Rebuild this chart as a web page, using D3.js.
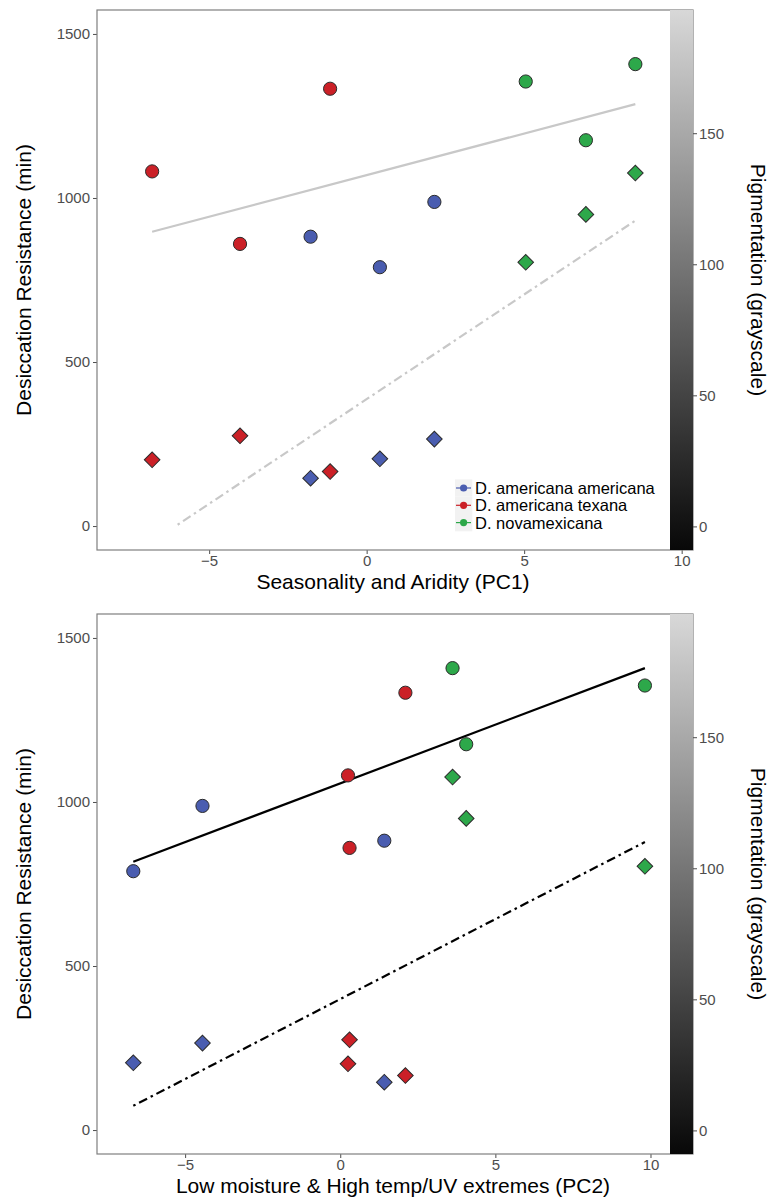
<!DOCTYPE html>
<html><head><meta charset="utf-8">
<script src="https://cdn.jsdelivr.net/npm/d3@7"></script>
<style>body{margin:0;background:#fff}svg{display:block;font-family:"Liberation Sans",Arial,sans-serif}</style>
</head><body><svg id="c" width="769" height="1197"></svg>
<script>
const species = ["D. americana americana", "D. americana texana", "D. novamexicana"];
const speciesColors = ["#4a5db0", "#cb2027", "#2da84a"];
const popSpecies = [0, 0, 0, 1, 1, 1, 2, 2, 2];
const pc1 = [-1.78, 0.42, 2.15, -6.81, -4.02, -1.16, 5.05, 8.53, 6.96];
const pc2 = [1.42, -6.67, -4.44, 0.25, 0.30, 2.10, 9.82, 3.62, 4.06];
const resistCircle = [882, 789, 988, 1081, 860, 1333, 1355, 1408, 1176];
const resistDiamond = [146, 205, 265, 202, 275, 166, 804, 1076, 950];
const fitPC1Solid = [[-6.81, 897], [8.53, 1286]];
const fitPC1DotDash = [[-6.0, 4], [8.53, 931]];
const fitPC2Solid = [[-6.67, 818], [9.82, 1408]];
const fitPC2DotDash = [[-6.67, 74], [9.82, 878]];
const xTicks = [-5, 0, 5, 10];
const yTicks = [0, 500, 1000, 1500];
const pigTicks = [0, 50, 100, 150];
const fitColorPC1 = "#c8c8c8";
const fitColorPC2 = "#000000";

const svg = d3.select("#c");
const defs = svg.append("defs");
const grad = defs.append("linearGradient").attr("id", "pig").attr("x1", 0).attr("y1", 1).attr("x2", 0).attr("y2", 0);
grad.append("stop").attr("offset", "0%").attr("stop-color", "#080808");
grad.append("stop").attr("offset", "100%").attr("stop-color", "#d8d8d8");

function panel(cfg) {
  const L = 97, R = 693, T = cfg.top, B = cfg.top + 540;
  const x = d3.scaleLinear().domain(cfg.xDomain).range([L, R]);
  const y = d3.scaleLinear().domain([-73, 1573]).range([B, T]);
  const cy = d3.scaleLinear().domain([-9, 197]).range([B, T]);
  const g = svg.append("g");
  const clipId = "clip" + cfg.top;
  defs.append("clipPath").attr("id", clipId).append("rect").attr("x", L).attr("y", T).attr("width", R - L).attr("height", B - T);

  // axes
  const xa = g.append("g").attr("transform", `translate(0,${B})`).call(d3.axisBottom(x).tickValues(xTicks).tickSize(4).tickPadding(1.5));
  const ya = g.append("g").attr("transform", `translate(${L},0)`).call(d3.axisLeft(y).tickValues(yTicks).tickSize(4).tickPadding(3).tickFormat(d3.format("d")));
  [xa, ya].forEach(a => {
    a.select(".domain").remove();
    a.selectAll("line").attr("stroke", "#4d4d4d");
    a.selectAll("text").attr("fill", "#4d4d4d").style("font-size", "15px").style("font-family", "Liberation Sans, Arial, sans-serif");
  });
  g.append("rect").attr("x", L).attr("y", T).attr("width", R - L).attr("height", B - T)
    .attr("fill", "none").attr("stroke", "#7f7f7f").attr("stroke-width", 1.2);

  const pg = g.append("g").attr("clip-path", `url(#${clipId})`);
  const line = d3.line().x(d => x(d[0])).y(d => y(d[1]));
  pg.append("path").attr("d", line(cfg.solid)).attr("fill", "none").attr("stroke", cfg.fitColor).attr("stroke-width", 2.2);
  pg.append("path").attr("d", line(cfg.dash)).attr("fill", "none").attr("stroke", cfg.fitColor).attr("stroke-width", 2.2).attr("stroke-dasharray", "2.5,4,9,4");

  // diamonds
  const sym = d3.symbol().type(d3.symbolSquare).size(122);
  pg.selectAll(".dia").data(cfg.xs).enter().append("path")
    .attr("d", sym)
    .attr("transform", (d, i) => `translate(${x(d)},${y(resistDiamond[i])}) rotate(45)`)
    .attr("fill", (d, i) => speciesColors[popSpecies[i]]).attr("stroke", "#2b2b2b").attr("stroke-width", 1);
  pg.selectAll(".cir").data(cfg.xs).enter().append("circle")
    .attr("cx", d => x(d)).attr("cy", (d, i) => y(resistCircle[i])).attr("r", 6.6)
    .attr("fill", (d, i) => speciesColors[popSpecies[i]]).attr("stroke", "#2b2b2b").attr("stroke-width", 1);

  // colorbar
  g.append("rect").attr("x", 670).attr("y", T).attr("width", 23).attr("height", B - T).attr("fill", "url(#pig)");
  const ca = g.append("g").attr("transform", `translate(${R},0)`).call(d3.axisRight(cy).tickValues(pigTicks).tickSize(4).tickPadding(2).tickFormat(d3.format("d")));
  ca.select(".domain").remove();
  ca.selectAll("line").attr("stroke", "#4d4d4d");
  ca.selectAll("text").attr("fill", "#4d4d4d").style("font-size", "15px").style("font-family", "Liberation Sans, Arial, sans-serif");

  // titles
  g.append("text").attr("x", (L + R) / 2 - 2).attr("y", B + 39).attr("text-anchor", "middle")
    .style("font-size", "21px").attr("fill", "#000").text(cfg.xTitle);
  g.append("text").attr("transform", `translate(31,${(T + B) / 2}) rotate(-90)`).attr("text-anchor", "middle")
    .style("font-size", "21px").attr("fill", "#000").text("Desiccation Resistance (min)");
  g.append("text").attr("transform", `translate(751,${(T + B) / 2}) rotate(90)`).attr("text-anchor", "middle")
    .style("font-size", "21px").attr("fill", "#000").text("Pigmentation (grayscale)");

  if (cfg.legend) {
    const lg = g.append("g");
    species.forEach((s, i) => {
      const yy = 488 + i * 17.3;
      lg.append("rect").attr("x", 455).attr("y", yy - 8.6).attr("width", 17.3).attr("height", 17.3).attr("fill", "#f2f2f2");
      lg.append("line").attr("x1", 456).attr("x2", 471).attr("y1", yy).attr("y2", yy).attr("stroke", speciesColors[i]).attr("stroke-width", 1.2);
      lg.append("circle").attr("cx", 463.6).attr("cy", yy).attr("r", 3.6).attr("fill", speciesColors[i]);
      lg.append("text").attr("x", 475).attr("y", yy + 6).style("font-size", "16.5px").attr("fill", "#000").text(s);
    });
  }
}

panel({top: 10, xDomain: [-8.56, 10.36], xs: pc1, solid: fitPC1Solid, dash: fitPC1DotDash, fitColor: fitColorPC1,
  xTitle: "Seasonality and Aridity (PC1)", legend: true});
panel({top: 614, xDomain: [-7.84, 11.37], xs: pc2, solid: fitPC2Solid, dash: fitPC2DotDash, fitColor: fitColorPC2,
  xTitle: "Low moisture & High temp/UV extremes (PC2)", legend: false});
</script></body></html>
